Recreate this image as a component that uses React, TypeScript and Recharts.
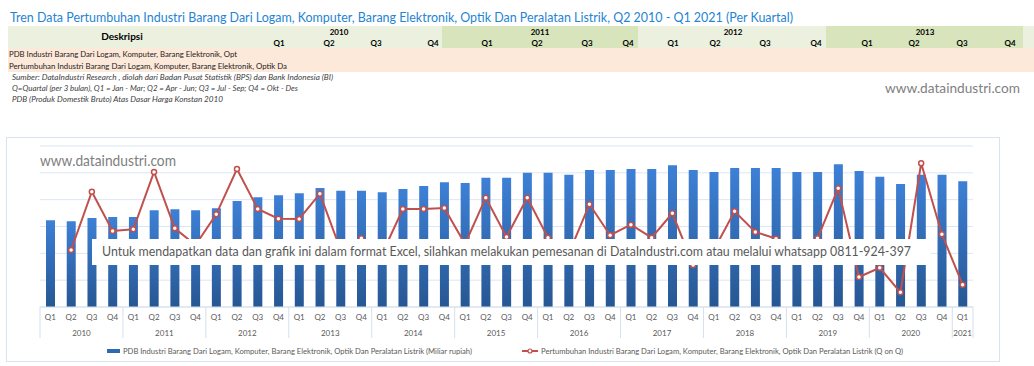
import { ComposedChart, Bar, Line, XAxis, YAxis, CartesianGrid } from 'recharts'

// kuartal 2010 Q1 .. 2021 Q1
const YEARS = ['2010', '2011', '2012', '2013', '2014', '2015', '2016', '2017', '2018', '2019', '2020', '2021']
const QUARTERS = ['Q1', 'Q2', 'Q3', 'Q4']
const PERIODS = YEARS.flatMap((y) => QUARTERS.map((q) => `${y} ${q}`)).slice(0, 45)

// PDB (Miliar rupiah)
const PDB = [
  16150, 15970, 16580, 16770,
  16770, 18020, 18200, 18020,
  18390, 19750, 20440, 20810,
  21190, 22170, 21670, 21670,
  21370, 21990, 22550, 23230,
  23100, 24090, 24090, 25020,
  25020, 24650, 25530, 25530,
  25710, 25710, 26400, 25530,
  25150, 25900, 25900, 25900,
  25150, 25150, 26590, 25340,
  24280, 22920, 24650, 24650,
  23420,
]

// Pertumbuhan Q on Q (%)
const GROWTH: (number | null)[] = [
  null, -1.63, 4.89, 0.5,
  0.69, 7.09, 0.8, -1.07,
  2.36, 7.43, 2.96, 1.87,
  1.84, 4.67, -1.63, -0.32,
  -2.07, 2.96, 2.96, 3.07,
  -0.96, 4.22, -0.17, 4.22,
  -0.25, -2.07, 3.48, 0.02,
  1.2, -0.25, 2.48, -3.3,
  -1.63, 2.7, 0.39, -0.36,
  -2.19, -0.32, 5.27, -4.65,
  -3.61, -6.36, 8.07, 0.13,
  -5.51,
]

const PDB_TICKS = [0, 5000, 10000, 15000, 20000, 25000, 30000]

const data = PERIODS.map((period, i) => ({ period, pdb: PDB[i], growth: GROWTH[i] }))

const PLOT_LEFT = 40
const PLOT_RIGHT = 973
const BW = (PLOT_RIGHT - PLOT_LEFT) / PERIODS.length
const RED = '#C0504D'
const SEP = '#D5DFEE'
const FONT = 'Lato, "Open Sans", sans-serif'

function PeriodTick(props: any) {
  const { x, y, payload, index } = props
  const [year, q] = String(payload.value).split(' ')
  const inYear = PERIODS.filter((p) => p.startsWith(year)).length
  const last = index === PERIODS.length - 1
  return (
    <g>
      <text x={x} y={y + 13} textAnchor="middle" fontSize={8} fill="#595959" fontFamily={FONT}>{q}</text>
      {q === 'Q1' && (
        <>
          <line x1={x - BW / 2} x2={x - BW / 2} y1={y} y2={y + 31} stroke={SEP} />
          <text x={x + ((inYear - 1) / 2) * BW} y={y + 29} textAnchor="middle" fontSize={8} fill="#595959" fontFamily={FONT}>{year}</text>
        </>
      )}
      {last && <line x1={x + BW / 2} x2={x + BW / 2} y1={y} y2={y + 31} stroke={SEP} />}
    </g>
  )
}

const HEAD_YEARS = [
  { label: '2010', x: 339, from: 8, to: 442, bg: '#EBF1DE', qx: [279, 329, 376, 433] },
  { label: '2011', x: 540, from: 442, to: 638, bg: '#D8E4BC', qx: [487, 537, 587, 628] },
  { label: '2012', x: 733, from: 638, to: 826, bg: '#EBF1DE', qx: [673, 715, 765, 816] },
  { label: '2013', x: 925, from: 826, to: 1023, bg: '#D8E4BC', qx: [867, 914, 962, 1010] },
]

function Header() {
  return (
    <svg width={1034} height={110} style={{ position: 'absolute', left: 0, top: 0 }}>
      <text x={10} y={22} fontSize={13.5} fill="#2584D2" fontFamily={FONT} textLength={783} lengthAdjust="spacingAndGlyphs">
        Tren Data Pertumbuhan Industri Barang Dari Logam, Komputer, Barang Elektronik, Optik Dan Peralatan Listrik, Q2 2010 - Q1 2021 (Per Kuartal)
      </text>
      {HEAD_YEARS.map((h) => (
        <rect key={h.label} x={h.from} y={26} width={h.to - h.from} height={22} fill={h.bg} />
      ))}
      <rect x={1023} y={26} width={11} height={22} fill="#EBF1DE" />
      <text x={122} y={40} textAnchor="middle" fontSize={10} fontWeight="bold" fill="#000" fontFamily={FONT}>Deskripsi</text>
      {HEAD_YEARS.map((h) => (
        <g key={h.label}>
          <text x={h.x} y={35} textAnchor="middle" fontSize={8} fontWeight="bold" fill="#000" fontFamily={FONT}>{h.label}</text>
          {h.qx.map((qx, i) => (
            <text key={i} x={qx} y={46} textAnchor="middle" fontSize={8} fontWeight="bold" fill="#000" fontFamily={FONT}>{QUARTERS[i]}</text>
          ))}
        </g>
      ))}
      <rect x={8} y={48} width={1026} height={24} fill="#FDE9D9" />
      <text x={9} y={57} fontSize={8} fill="#222" fontFamily={FONT} textLength={228} lengthAdjust="spacingAndGlyphs">
        PDB Industri Barang Dari Logam, Komputer, Barang Elektronik, Opt
      </text>
      <text x={9} y={69} fontSize={8} fill="#222" fontFamily={FONT} textLength={278} lengthAdjust="spacingAndGlyphs">
        Pertumbuhan Industri Barang Dari Logam, Komputer, Barang Elektronik, Optik Da
      </text>
      <g fontSize={7} fontStyle="italic" fill="#404040" fontFamily={FONT}>
        <text x={12} y={80} textLength={321} lengthAdjust="spacingAndGlyphs">Sumber: DataIndustri Research , diolah dari Badan Pusat Statistik (BPS) dan Bank Indonesia (BI)</text>
        <text x={12} y={91} textLength={286} lengthAdjust="spacingAndGlyphs">Q=Quartal (per 3 bulan), Q1 = Jan - Mar; Q2 = Apr - Jun; Q3 = Jul - Sep; Q4 = Okt - Des</text>
        <text x={12} y={102} textLength={211} lengthAdjust="spacingAndGlyphs">PDB (Produk Domestik Bruto) Atas Dasar Harga Konstan 2010</text>
      </g>
      <text x={885} y={93} fontSize={14} fill="#808080" fontFamily={FONT} textLength={135} lengthAdjust="spacingAndGlyphs">www.dataindustri.com</text>
    </svg>
  )
}

function Overlay() {
  return (
    <svg width={1034} height={366} style={{ position: 'absolute', left: 0, top: 0, pointerEvents: 'none' }}>
      <text x={40} y={166} fontSize={15} fill="#808080" fontFamily={FONT} textLength={136} lengthAdjust="spacingAndGlyphs">www.dataindustri.com</text>
      <rect x={92} y={239} width={839} height={26} fill="#fff" />
      <text x={102} y={256} fontSize={13} fill="#595959" fontFamily={FONT} textLength={809} lengthAdjust="spacingAndGlyphs">
        Untuk mendapatkan data dan grafik ini dalam format Excel, silahkan melakukan pemesanan di DataIndustri.com atau melalui whatsapp 0811-924-397
      </text>
      <rect x={107} y={349} width={13} height={4} fill="#2E69B3" />
      <text x={123} y={354} fontSize={8} fill="#595959" fontFamily={FONT} textLength={349} lengthAdjust="spacingAndGlyphs">
        PDB Industri Barang Dari Logam, Komputer, Barang Elektronik, Optik Dan Peralatan Listrik (Miliar rupiah)
      </text>
      <line x1={522} x2={538} y1={351} y2={351} stroke={RED} strokeWidth={2} />
      <circle cx={530} cy={351} r={2} fill="#fff" stroke={RED} strokeWidth={1.2} />
      <text x={541} y={354} fontSize={8} fill="#595959" fontFamily={FONT} textLength={362} lengthAdjust="spacingAndGlyphs">
        Pertumbuhan Industri Barang Dari Logam, Komputer, Barang Elektronik, Optik Dan Peralatan Listrik (Q on Q)
      </text>
    </svg>
  )
}

export default function App() {
  return (
    <div style={{ position: 'absolute', left: 0, top: 0, width: 1034, height: 366, background: '#fff', overflow: 'hidden' }}>
      <Header />
      <div style={{ position: 'absolute', left: 6, top: 137, width: 994, height: 225, border: '1px solid #D9E2EF', boxSizing: 'border-box' }} />
      <div style={{ position: 'absolute', left: 0, top: 0 }}>
        <ComposedChart width={1034} height={366} data={data} margin={{ top: 146, left: PLOT_LEFT, right: 1034 - PLOT_RIGHT, bottom: 19 }}>
          <defs>
            <linearGradient id="barFill" x1="0" y1="0" x2="0" y2="1">
              <stop offset="0%" stopColor="#3D80D6" />
              <stop offset="100%" stopColor="#275793" />
            </linearGradient>
          </defs>
          <CartesianGrid yAxisId="pdb" vertical={false} stroke="#DCE6F2" />
          <XAxis
            dataKey="period"
            height={40}
            interval={0}
            tickLine={false}
            tickSize={0}
            tickMargin={0}
            stroke={SEP}
            tick={<PeriodTick />}
          />
          <YAxis yAxisId="pdb" hide domain={[0, 30000]} ticks={PDB_TICKS} />
          <YAxis yAxisId="growth" orientation="right" hide domain={[-8, 10]} />
          <Bar yAxisId="pdb" dataKey="pdb" fill="url(#barFill)" barSize={9} isAnimationActive={false} />
          <Line
            yAxisId="growth"
            dataKey="growth"
            stroke={RED}
            strokeWidth={2}
            dot={{ r: 2.5, fill: '#fff', stroke: RED, strokeWidth: 1.5 }}
            isAnimationActive={false}
          />
        </ComposedChart>
      </div>
      <Overlay />
    </div>
  )
}
